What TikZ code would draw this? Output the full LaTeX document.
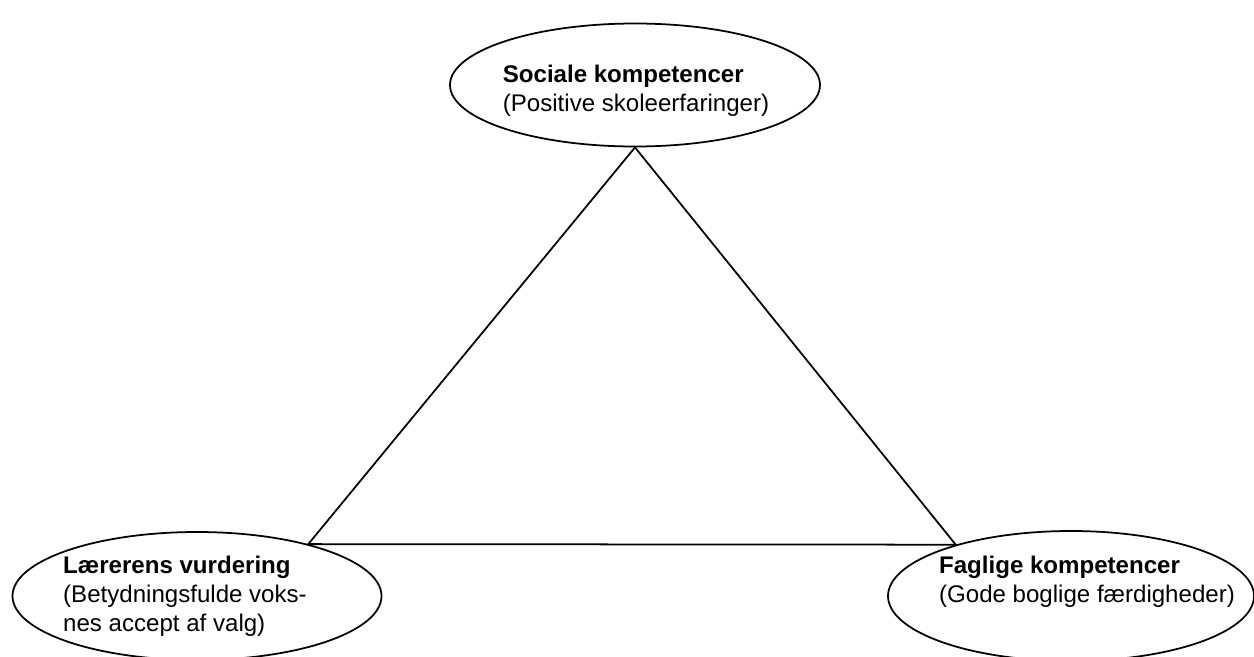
\documentclass[tikz,border=0pt]{standalone}
\usepackage{fontspec}
\setmainfont{Liberation Sans}
\usetikzlibrary{shapes.geometric}
\tikzstyle{bubble}=[
        draw = black,
        line width = 1pt,
        ellipse,
        inner sep = 0pt
    ]
\tikzstyle{caption}=[
        align = left,
        inner sep = 0pt,
        font = \fontsize{13.7}{16.5}\selectfont
    ]

\begin{document}
\begin{tikzpicture}[line width=1pt]
        \useasboundingbox (0,0) rectangle (25.08,13.12);

        \node[bubble, minimum width=7.4cm, minimum height=2.46cm] (soc) at (12.70,11.42) {};
        \node[bubble, minimum width=7.38cm, minimum height=2.56cm] (laer) at (3.94,1.20) {};
        \node[bubble, minimum width=7.32cm, minimum height=2.6cm] (fag) at (21.42,1.20) {};

        \node[caption] (soctxt) at (12.72,11.30) {\textbf{Sociale kompetencer}\\(Positive skoleerfaringer)};
        \node[caption] (laertxt) at (3.70,1.20) {\textbf{Lærerens vurdering}\\(Betydningsfulde voks-\\nes accept af valg)};
        \node[caption] (fagtxt) at (21.74,1.48) {\textbf{Faglige kompetencer}\\(Gode boglige færdigheder)};

        \draw (soc.south) -- (laer.25) -- (fag.156) -- cycle;
    \end{tikzpicture}
\end{document}
